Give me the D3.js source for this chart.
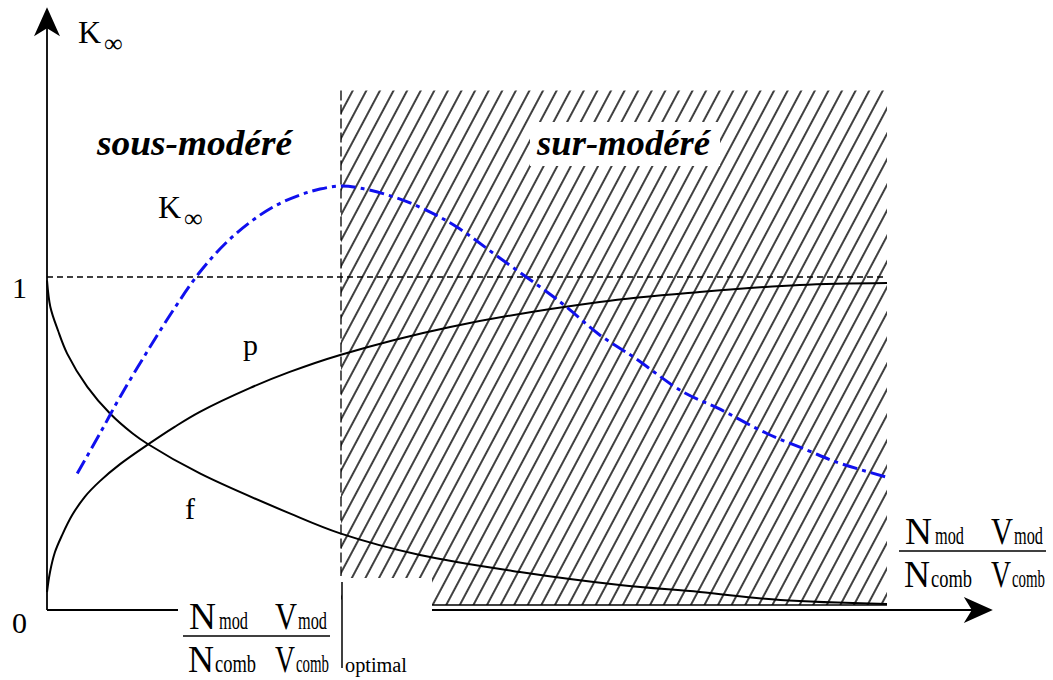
<!DOCTYPE html>
<html>
<head>
<meta charset="utf-8">
<script src="https://cdn.jsdelivr.net/npm/d3@7"></script>
<style>
  body { margin: 0; background: #fff; }
  text { font-family: "Liberation Serif", "Times New Roman", serif; fill: #000; }
</style>
</head>
<body>
<div id="chart"></div>
<script>
'use strict';

// curves: x in units of moderation ratio, y = factor value
const pCurve = [
  [0, 0.054], [0.036, 0.114], [0.095, 0.174], [0.18, 0.225], [0.30, 0.285],
  [0.45, 0.34], [0.63, 0.387], [0.87, 0.438], [1.19, 0.495], [1.52, 0.55],
  [1.82, 0.595], [2.42, 0.667], [2.89, 0.715], [3.49, 0.766], [4.80, 0.85],
  [6.58, 0.925], [7.77, 0.955], [8.96, 0.976], [10, 0.982]
];
const fCurve = [
  [0, 0.99], [0.04, 0.91], [0.13, 0.84], [0.24, 0.77], [0.48, 0.67], [0.75, 0.59],
  [1.02, 0.53], [1.19, 0.50], [1.82, 0.41], [2.89, 0.29], [3.49, 0.23],
  [4.44, 0.165], [5.63, 0.114], [6.82, 0.075], [7.77, 0.054], [8.73, 0.03], [10, 0.018]
];
const kInfCurve = [
  [0.36, 0.41], [0.63, 0.53], [0.87, 0.64], [1.19, 0.775], [1.52, 0.907],
  [1.82, 1.015], [2.12, 1.10], [2.42, 1.165], [2.71, 1.213], [3.01, 1.246],
  [3.25, 1.264], [3.49, 1.273], [3.73, 1.267], [4.17, 1.237], [4.52, 1.20],
  [4.88, 1.15], [5.39, 1.057], [6.11, 0.925], [6.58, 0.826], [6.98, 0.76],
  [7.57, 0.655], [7.98, 0.607], [8.57, 0.53], [9.05, 0.48], [9.40, 0.444], [9.98, 0.40]
];
const xOptimal = 3.5;
const xEnd = 10;
const yTicks = [0, 1];
const yTop = 1.81;
const xTop = 11.26;
const hatchTop = 1.56;

const width = 1053, height = 680;

const x = d3.scaleLinear().domain([0, 10]).range([47, 887]);
const y = d3.scaleLinear().domain([0, 1]).range([610, 277]);

const svg = d3.select('#chart').append('svg')
  .attr('width', width)
  .attr('height', height);

// hatching for the over-moderated zone
const defs = svg.append('defs');
defs.append('pattern')
    .attr('id', 'hatch')
    .attr('patternUnits', 'userSpaceOnUse')
    .attr('width', 12)
    .attr('height', 12)
    .attr('patternTransform', 'rotate(28)')
  .append('line')
    .attr('x1', 6).attr('y1', 0)
    .attr('x2', 6).attr('y2', 12)
    .attr('stroke', '#000')
    .attr('stroke-width', 1.5);

svg.append('rect')
  .attr('x', x(xOptimal))
  .attr('y', y(hatchTop))
  .attr('width', x(xEnd) - x(xOptimal))
  .attr('height', y(0.015) - y(hatchTop))
  .attr('fill', 'url(#hatch)');

// white box behind "sur-modéré" and notch under the optimal label
svg.append('rect')
  .attr('x', 530).attr('y', 122).attr('width', 190).attr('height', 44)
  .attr('fill', '#fff');
svg.append('rect')
  .attr('x', x(xOptimal) + 1).attr('y', 578).attr('width', 90).attr('height', 40)
  .attr('fill', '#fff');

svg.append('line')
  .attr('x1', 432).attr('x2', x(xEnd))
  .attr('y1', y(0.015)).attr('y2', y(0.015))
  .attr('stroke', '#000')
  .attr('stroke-width', 1.5);

// reference lines
svg.append('line')
  .attr('x1', x(0)).attr('x2', x(xEnd))
  .attr('y1', y(1)).attr('y2', y(1))
  .attr('stroke', '#000')
  .attr('stroke-width', 1.3)
  .attr('stroke-dasharray', '6,4');

svg.append('line')
  .attr('x1', x(xOptimal)).attr('x2', x(xOptimal))
  .attr('y1', y(hatchTop)).attr('y2', 576)
  .attr('stroke', '#000')
  .attr('stroke-width', 1.3)
  .attr('stroke-dasharray', '10,4');

// curves
const line = d3.line()
  .x((d) => x(d[0]))
  .y((d) => y(d[1]))
  .curve(d3.curveCatmullRom);

svg.append('path')
  .datum(pCurve)
  .attr('d', line)
  .attr('fill', 'none')
  .attr('stroke', '#000')
  .attr('stroke-width', 2);

svg.append('path')
  .datum(fCurve)
  .attr('d', line)
  .attr('fill', 'none')
  .attr('stroke', '#000')
  .attr('stroke-width', 2);

svg.append('path')
  .datum(kInfCurve)
  .attr('d', line)
  .attr('fill', 'none')
  .attr('stroke', '#1010ee')
  .attr('stroke-width', 3)
  .attr('stroke-dasharray', '15,5,4,5');

// axes with arrow heads
svg.append('line')
  .attr('x1', x(0)).attr('x2', x(0))
  .attr('y1', y(0)).attr('y2', y(yTop) + 8)
  .attr('stroke', '#000')
  .attr('stroke-width', 1.8);
svg.append('path')
  .attr('d', `M${x(0)},${y(yTop)} L${x(0) + 13},${y(yTop) + 29} L${x(0)},${y(yTop) + 21} L${x(0) - 13},${y(yTop) + 29} Z`)
  .attr('fill', '#000');

svg.append('line')
  .attr('x1', x(0)).attr('x2', x(xTop) - 8)
  .attr('y1', y(0)).attr('y2', y(0))
  .attr('stroke', '#000')
  .attr('stroke-width', 1.8);
svg.append('path')
  .attr('d', `M${x(xTop)},${y(0)} L${x(xTop) - 29},${y(0) - 13} L${x(xTop) - 21},${y(0)} L${x(xTop) - 29},${y(0) + 13} Z`)
  .attr('fill', '#000');

// axis hidden behind the optimal label
svg.append('rect')
  .attr('x', 178).attr('y', 600).attr('width', 254).attr('height', 18)
  .attr('fill', '#fff');

svg.selectAll('.ytick')
  .data(yTicks)
  .enter().append('text')
    .attr('class', 'ytick')
    .attr('x', 12)
    .attr('y', (d) => d === 0 ? y(d) + 23 : y(d) + 21)
    .attr('font-size', 30)
    .text((d) => d);

// evaluation bar
svg.append('line')
  .attr('x1', x(xOptimal) + 1).attr('x2', x(xOptimal) + 1)
  .attr('y1', 582).attr('y2', 668)
  .attr('stroke', '#000')
  .attr('stroke-width', 1.5);

// labels
function kInf(lx, ly) {
  svg.append('text').attr('x', lx).attr('y', ly).attr('font-size', 32).text('K');
  svg.append('text').attr('x', lx + 26).attr('y', ly + 9).attr('font-size', 26).text('∞');
}
kInf(78, 43);
kInf(158, 218);

svg.append('text').attr('x', 243).attr('y', 355).attr('font-size', 30).text('p');
svg.append('text').attr('x', 185).attr('y', 519).attr('font-size', 30).text('f');

svg.append('text')
  .attr('x', 97).attr('y', 155)
  .attr('font-size', 36)
  .attr('font-weight', 'bold')
  .attr('font-style', 'italic')
  .attr('textLength', 195)
  .attr('lengthAdjust', 'spacingAndGlyphs')
  .text('sous-modéré');

svg.append('text')
  .attr('x', 537).attr('y', 155)
  .attr('font-size', 36)
  .attr('font-weight', 'bold')
  .attr('font-style', 'italic')
  .attr('textLength', 173)
  .attr('lengthAdjust', 'spacingAndGlyphs')
  .text('sur-modéré');

function ratio(lx, ly) {
  const g = svg.append('g').attr('transform', `translate(${lx},${ly})`);
  const part = (tx, ty, size, str, len) => {
    g.append('text')
      .attr('x', tx).attr('y', ty)
      .attr('font-size', size)
      .attr('textLength', len)
      .attr('lengthAdjust', 'spacingAndGlyphs')
      .text(str);
  };
  part(6, -7, 37, 'N', 27);
  part(36, -7, 26, 'mod', 29);
  part(92, -7, 37, 'V', 22);
  part(115, -7, 26, 'mod', 29);
  part(5, 36, 37, 'N', 26);
  part(32, 36, 26, 'comb', 41);
  part(92, 36, 37, 'V', 20);
  part(113, 36, 26, 'comb', 33);
  g.append('line')
    .attr('x1', 0).attr('x2', 147)
    .attr('y1', 0).attr('y2', 0)
    .attr('stroke', '#000')
    .attr('stroke-width', 1.5);
  return g;
}
ratio(183, 636);
ratio(899, 551);

svg.append('text')
  .attr('x', 345).attr('y', 672)
  .attr('font-size', 20)
  .attr('textLength', 62)
  .attr('lengthAdjust', 'spacingAndGlyphs')
  .text('optimal');
</script>
</body>
</html>
